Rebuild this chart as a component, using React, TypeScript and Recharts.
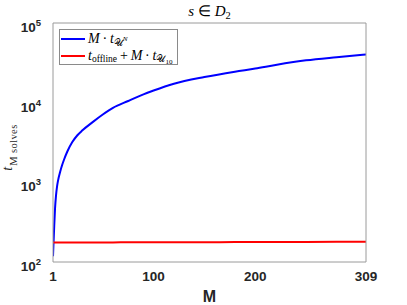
import React from 'react';
import { LineChart, Line, XAxis, YAxis, Legend } from 'recharts';

// ---- data ----
const mValues = [1, 2, 3, 4, 5, 6, 8, 10, 12, 15, 20, 25, 30, 40, 50, 60, 75, 90, 100, 120, 150, 180, 200, 220, 250, 280, 309];
const directSolveTimes = [118, 245, 470, 690, 890, 1060, 1350, 1650, 1950, 2420, 3200, 3900, 4500, 5700, 7100, 8600, 10500, 12700, 14200, 17300, 21000, 24500, 26800, 29700, 34000, 37200, 40200];
const offlineOnlineTimes = [176, 176, 176, 176, 176, 176, 176, 176, 176, 176, 176, 176, 176, 176, 176, 176, 177, 177, 177, 177, 177, 178, 178, 178, 178, 179, 180];

const xTicks = [1, 100, 200, 309];
const yMajorTicks = [100, 1000, 10000, 100000];
const yMinorTicks = [200, 300, 400, 500, 600, 700, 800, 900, 2000, 3000, 4000, 5000, 6000, 7000, 8000, 9000, 20000, 30000, 40000, 50000, 60000, 70000, 80000, 90000];

const data = mValues.map((m, i) => ({ m, direct: directSolveTimes[i], reduced: offlineOnlineTimes[i] }));

const GRAY = '#9a9a9a';
const SANS = '"Liberation Sans", Arial, Helvetica, sans-serif';
const SERIF = '"Liberation Serif", "Times New Roman", serif';
const SCRIPT_U = '\u{1D4B0}';
const THIN = '\u2009';

const YTick = (props: any) => {
  const { x, y, payload } = props;
  const exp = Math.round(Math.log10(payload.value));
  return (
    <text x={x - 12} y={y + 9} textAnchor="end" fontFamily={SANS} fontWeight="bold" fontSize={13.5} fill="#262626">
      <tspan>10</tspan>
      <tspan dy={-6} fontSize={9.5}>{exp}</tspan>
    </text>
  );
};

const XTick = (props: any) => {
  const { x, y, payload } = props;
  return (
    <text x={x} y={y + 19} textAnchor="middle" fontFamily={SANS} fontWeight="bold" fontSize={13.5} fill="#262626">
      {payload.value}
    </text>
  );
};

const subStyle: React.CSSProperties = { fontSize: '0.68em', position: 'relative', top: '0.3em', lineHeight: 1 };
const supStyle: React.CSSProperties = { fontSize: '0.75em', position: 'relative', top: '-0.75em', lineHeight: 1 };
const subSubStyle: React.CSSProperties = { fontSize: '0.75em', position: 'relative', top: '0.25em', lineHeight: 1 };

const legendLabels: Record<string, React.ReactNode> = {
  direct: (
    <>
      <i>M</i>{THIN}·{THIN}<i>t</i>
      <span style={subStyle}>
        {SCRIPT_U}
        <span style={supStyle}><i>N</i></span>
      </span>
    </>
  ),
  reduced: (
    <>
      <i>t</i>
      <span style={subStyle}>offline</span>{THIN}+{THIN}<i>M</i>{THIN}·{THIN}<i>t</i>
      <span style={subStyle}>
        {SCRIPT_U}
        <span style={subSubStyle}>10</span>
      </span>
    </>
  ),
};

const LegendBox = (props: any) => {
  const { payload } = props;
  return (
    <div style={{ boxSizing: 'border-box', border: '1px solid #8a8a8a', background: '#fff', padding: '1px 4px 0 1px', fontFamily: SERIF, fontSize: 14, color: '#000' }}>
      {(payload || []).map((entry: any) => (
        <div key={entry.dataKey} style={{ display: 'flex', alignItems: 'center', height: 16.5, lineHeight: '16.5px', whiteSpace: 'nowrap' }}>
          <svg width={24} height={4} style={{ marginRight: 3, flex: 'none' }}>
            <line x1={0} y1={2} x2={24} y2={2} stroke={entry.color} strokeWidth={2} />
          </svg>
          <span>{legendLabels[entry.dataKey]}</span>
        </div>
      ))}
    </div>
  );
};

const TitleLabel = (props: any) => {
  const vb = props.viewBox || { x: 53, width: 313 };
  const cx = vb.x + vb.width / 2;
  return (
    <text x={cx} y={15.5} textAnchor="middle" fontFamily={SERIF} fontSize={15} fill="#000">
      <tspan fontStyle="italic">s</tspan>
      <tspan> ∈ </tspan>
      <tspan fontStyle="italic">D</tspan>
      <tspan dy={3} fontSize={10.5}>2</tspan>
    </text>
  );
};

const XLabel = (props: any) => {
  const vb = props.viewBox || { x: 53, width: 313 };
  const cx = vb.x + vb.width / 2;
  return (
    <text x={cx} y={301.5} textAnchor="middle" fontFamily={SANS} fontWeight="bold" fontSize={16} fill="#262626">
      M
    </text>
  );
};

const YLabel = () => {
  const cy = 147.5;
  const cx = 12;
  return (
    <text x={cx} y={cy} textAnchor="middle" transform={`rotate(-90, ${cx}, ${cy})`} fontFamily={SERIF} fill="#262626">
      <tspan fontStyle="italic" fontSize={14}>t</tspan>
      <tspan dy={4.5} dx={1} fontSize={10.5} letterSpacing={0.4}>M solves</tspan>
    </text>
  );
};

export default function App() {
  return (
    <div style={{ position: 'absolute', left: 0, top: 0, width: 407, height: 305, background: '#fff' }}>
      <LineChart width={407} height={305} data={data} margin={{ top: 23, right: 41, bottom: 0, left: 0 }}>
        {/* bottom axis: labels and box line */}
        <XAxis
          xAxisId="bottom"
          dataKey="m"
          type="number"
          domain={[1, 309]}
          allowDataOverflow
          ticks={xTicks}
          tickLine={false}
          tickSize={0}
          tickMargin={0}
          tick={<XTick />}
          height={43}
          axisLine={{ stroke: GRAY }}
          label={<XLabel />}
        />
        <XAxis
          xAxisId="bottomTicks"
          type="number"
          domain={[1, 309]}
          allowDataOverflow
          ticks={xTicks}
          orientation="bottom"
          mirror
          tick={false}
          tickSize={3.5}
          tickLine={{ stroke: GRAY }}
          axisLine={false}
        />
        <XAxis
          xAxisId="top"
          type="number"
          domain={[1, 309]}
          allowDataOverflow
          ticks={xTicks}
          orientation="top"
          mirror
          tick={false}
          tickSize={3.5}
          tickLine={{ stroke: GRAY }}
          axisLine={{ stroke: GRAY }}
          label={<TitleLabel />}
        />
        {/* left axis: labels and box line */}
        <YAxis
          yAxisId="left"
          type="number"
          scale="log"
          domain={[100, 100000]}
          allowDataOverflow
          ticks={yMajorTicks}
          tickLine={false}
          tickSize={0}
          tickMargin={0}
          tick={<YTick />}
          width={53}
          axisLine={{ stroke: GRAY }}
          label={<YLabel />}
        />
        <YAxis yAxisId="leftMajor" type="number" scale="log" domain={[100, 100000]} allowDataOverflow ticks={yMajorTicks}
          orientation="left" mirror tick={false} tickSize={3.5} tickLine={{ stroke: GRAY }} axisLine={false} />
        <YAxis yAxisId="leftMinor" type="number" scale="log" domain={[100, 100000]} allowDataOverflow ticks={yMinorTicks}
          orientation="left" mirror tick={false} tickSize={2} tickLine={{ stroke: GRAY }} axisLine={false} />
        <YAxis yAxisId="rightMajor" type="number" scale="log" domain={[100, 100000]} allowDataOverflow ticks={yMajorTicks}
          orientation="right" mirror tick={false} tickSize={3.5} tickLine={{ stroke: GRAY }} axisLine={{ stroke: GRAY }} />
        <YAxis yAxisId="rightMinor" type="number" scale="log" domain={[100, 100000]} allowDataOverflow ticks={yMinorTicks}
          orientation="right" mirror tick={false} tickSize={2} tickLine={{ stroke: GRAY }} axisLine={false} />

        <Legend
          layout="vertical"
          align="center"
          verticalAlign="middle"
          content={<LegendBox />}
          wrapperStyle={{ left: 59, top: 29, width: 'auto', height: 'auto' }}
        />
        <Line
          xAxisId="bottom"
          yAxisId="left"
          type="monotone"
          dataKey="direct"
          name="direct"
          stroke="#0000ff"
          strokeWidth={2}
          dot={false}
          isAnimationActive={false}
        />
        <Line
          xAxisId="bottom"
          yAxisId="left"
          type="monotone"
          dataKey="reduced"
          name="reduced"
          stroke="#ff0000"
          strokeWidth={2}
          dot={false}
          isAnimationActive={false}
        />
      </LineChart>
    </div>
  );
}
